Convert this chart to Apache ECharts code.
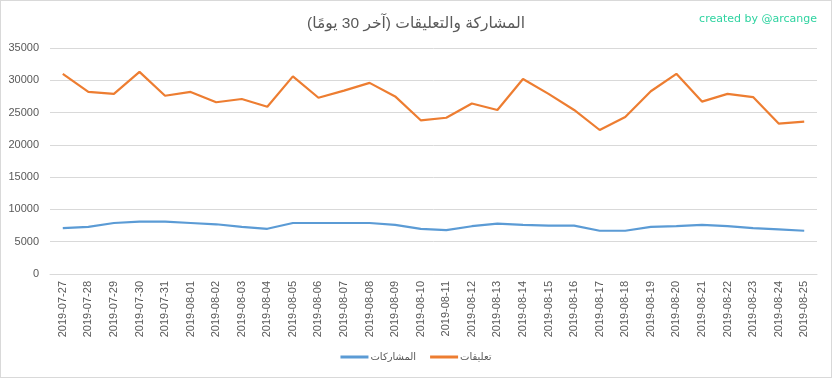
<!DOCTYPE html>
<html>
<head>
<meta charset="utf-8">
<script src="https://cdn.jsdelivr.net/npm/echarts@6/dist/echarts.min.js"></script>
<style>
  html, body { margin: 0; padding: 0; background: #fff; }
  #main { width: 830px; height: 376px; border: 1px solid #d9d9d9; }
</style>
</head>
<body>
<div id="main"></div>
<script>
// dates (last 30 days)
var dates = ['2019-07-27','2019-07-28','2019-07-29','2019-07-30','2019-07-31','2019-08-01','2019-08-02','2019-08-03','2019-08-04','2019-08-05',
  '2019-08-06','2019-08-07','2019-08-08','2019-08-09','2019-08-10','2019-08-11','2019-08-12','2019-08-13','2019-08-14','2019-08-15',
  '2019-08-16','2019-08-17','2019-08-18','2019-08-19','2019-08-20','2019-08-21','2019-08-22','2019-08-23','2019-08-24','2019-08-25'];

// المشاركات
var posts = [7100, 7300, 7900, 8100, 8100, 7900, 7700, 7300, 7000, 7900,
  7900, 7900, 7900, 7600, 7000, 6800, 7400, 7800, 7600, 7500,
  7500, 6700, 6700, 7300, 7400, 7600, 7400, 7100, 6900, 6700];

// تعليقات
var comments = [31000, 28200, 27900, 31300, 27600, 28200, 26600, 27100, 25900, 30600,
  27300, 28400, 29600, 27500, 23800, 24200, 26400, 25400, 30200, 27900,
  25400, 22300, 24300, 28300, 31000, 26700, 27900, 27400, 23300, 23600];

var font = 'Liberation Sans, Arial, DejaVu Sans, sans-serif';
var chart = echarts.init(document.getElementById('main'));

var option = {
  animation: false,
  textStyle: { fontFamily: font },
  title: [{
    text: 'المشاركة والتعليقات (آخر 30 يومًا)',
    left: 'center',
    top: 10,
    textStyle: { fontSize: 15.5, fontWeight: 'normal', color: '#595959', fontFamily: font }
  }, {
    text: 'created by @arcange',
    right: 9,
    top: 8,
    textStyle: { fontSize: 11, fontWeight: 'normal', color: '#2ed3a0', fontFamily: 'DejaVu Sans' }
  }],
  legend: {
    bottom: 10,
    left: 'center',
    itemWidth: 28,
    itemHeight: 3,
    itemGap: 14,
    icon: 'rect',
    textStyle: { color: '#595959', fontSize: 10, padding: [0, 0, 0, -3] },
    data: ['المشاركات', 'تعليقات']
  },
  grid: { left: 49, right: 14, top: 47, bottom: 103 },
  xAxis: {
    type: 'category',
    data: dates,
    axisLine: { lineStyle: { color: '#d9d9d9' } },
    axisTick: { show: false },
    axisLabel: { rotate: 90, color: '#595959', fontSize: 11, interval: 0, margin: 7 }
  },
  yAxis: {
    type: 'value',
    min: 0,
    max: 35000,
    interval: 5000,
    axisLine: { show: false },
    axisTick: { show: false },
    axisLabel: { color: '#595959', fontSize: 11, margin: 11, formatter: function (v) { return String(v); } },
    splitLine: { lineStyle: { color: '#d9d9d9' } }
  },
  series: [{
    name: 'المشاركات',
    type: 'line',
    data: posts,
    symbol: 'none',
    lineStyle: { width: 2.2, color: '#5b9bd5' },
    itemStyle: { color: '#5b9bd5' }
  }, {
    name: 'تعليقات',
    type: 'line',
    data: comments,
    symbol: 'none',
    lineStyle: { width: 2.2, color: '#ed7d31' },
    itemStyle: { color: '#ed7d31' }
  }]
};

chart.setOption(option);
</script>
</body>
</html>
